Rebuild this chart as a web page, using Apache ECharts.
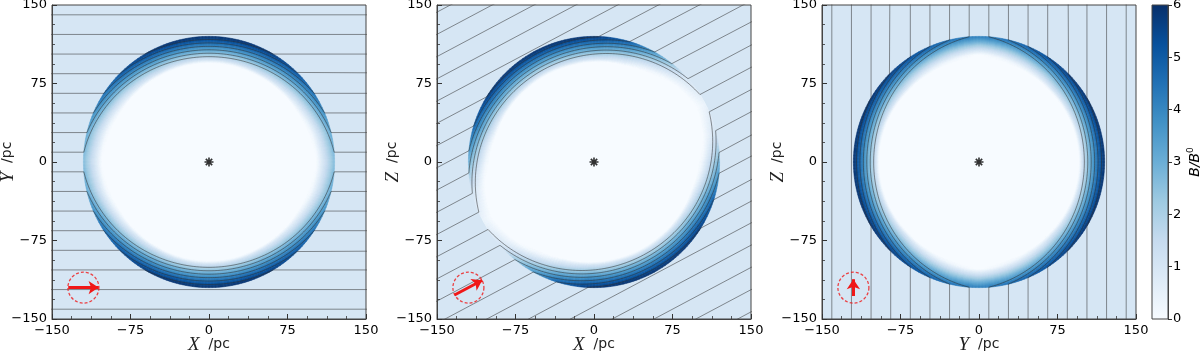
<!DOCTYPE html>
<html>
<head>
<meta charset="utf-8">
<script src="https://cdn.jsdelivr.net/npm/echarts@6/dist/echarts.min.js"></script>
<style>
  html, body { margin: 0; padding: 0; background: #fff; }
  #chart { width: 1200px; height: 356px; }
</style>
</head>
<body>
<div id="chart"></div>
<script>
  // ---- values ----
  const tickValues = [-150, -75, 0, 75, 150]
  const colorbarTicks = [0, 1, 2, 3, 4, 5, 6]
  const xNames = ['X', 'X', 'Y']
  const yNames = ['Y', 'Z', 'Z']
  const fieldAngles = [0, 28, 90] // ambient field direction in each slice (deg)
  const fieldLineOffsets = [
    -215.625, -196.875, -178.125, -159.375, -140.625, -121.875, -103.125, -84.375, -65.625, -46.875, -28.125, -9.375,
    9.375, 28.125, 46.875, 65.625, 84.375, 103.125, 121.875, 140.625, 159.375, 178.125, 196.875, 215.625
  ]
  const bubbleRadius = 120 // pc
  const lineShellDepth = 21 // pc, depth over which field lines are packed
  const ambientB = 1
  const cavityB = 0

  // shell profile against angle between shell normal and ambient field
  const profileAngles = [0, 15, 30, 45, 60, 75, 90]
  const peakXY = [2.6, 3.2, 4.4, 5.3, 5.8, 6.0, 6.0]
  const peakXZ = [0.4, 1.2, 3.2, 4.9, 5.8, 6.0, 6.0]
  const peakYZ = [4.2, 4.6, 5.3, 5.8, 6.0, 6.0, 6.0]
  const depthXY = [17, 18, 20, 21, 22, 22, 22]
  const depthXZ = [9, 13, 17, 20, 21, 22, 22]
  const depthYZ = [17, 19, 20, 21, 21, 21, 21]
  const floorXY = [0, 0.05, 0.12, 0.18, 0.2, 0.2, 0.2]
  const floorXZ = [0, 0, 0.08, 0.15, 0.2, 0.2, 0.2]
  const floorYZ = [0, 0.05, 0.12, 0.18, 0.2, 0.2, 0.2]

  const markerCentre = [-120, -120]
  const arrowLengths = [29, 30, 16]

  // ---- styles ----
  const blues = ['#f7fbff', '#deebf7', '#c6dbef', '#9ecae1', '#6baed6', '#4292c6', '#2171b5', '#08519c', '#08306b']
  const RAD = Math.PI / 180
  const panelLeft = [52, 437, 822]
  const panelTop = 5
  const panelSize = 314

  const profiles = [
    { peak: peakXY, depth: depthXY, floor: floorXY },
    { peak: peakXZ, depth: depthXZ, floor: floorXZ },
    { peak: peakYZ, depth: depthYZ, floor: floorYZ }
  ]

  const interp = (xs, ys, x) => {
    if (x <= xs[0]) return ys[0]
    for (let i = 1; i < xs.length; i++) {
      if (x <= xs[i]) {
        const f = (x - xs[i - 1]) / (xs[i] - xs[i - 1])
        return ys[i - 1] + f * (ys[i] - ys[i - 1])
      }
    }
    return ys[ys.length - 1]
  }

  // polar cells of the swept-up shell
  const shellCells = (prof, phiDeg) => {
    const cells = []
    const dth = 1.5
    const dr = 1
    const R = bubbleRadius
    for (let th = 0; th < 360; th += dth) {
      const mid = (th + dth / 2) * RAD
      const alpha = Math.acos(Math.min(1, Math.abs(Math.cos(mid - phiDeg * RAD)))) / RAD
      const bOut = interp(profileAngles, prof.peak, alpha)
      const t = interp(profileAngles, prof.depth, alpha)
      const f = interp(profileAngles, prof.floor, alpha)
      const rin = R - t
      for (let r = R - 30; r < R; r += dr) {
        const rm = r + dr / 2
        let b
        if (rm >= rin) b = bOut * (f + (1 - f) * (rm - rin) / t)
        else b = bOut * f * Math.max(0, 1 - (rin - rm) / 3)
        if (b > 0.03) cells.push([th, th + dth, r, r + dr, b])
      }
    }
    return cells
  }

  // a field line: straight outside, packed into the shell inside
  const fieldLine = (s, phiDeg) => {
    const R = bubbleRadius
    const phi = phiDeg * RAD
    const e = [Math.cos(phi), Math.sin(phi)]
    const n = [-Math.sin(phi), Math.cos(phi)]
    const toWorld = (t, u) => [t * e[0] + u * n[0], t * e[1] + u * n[1]]
    const far = 330
    if (Math.abs(s) >= R) return [toWorld(-far, s), toWorld(far, s)]
    const a0 = Math.asin(Math.abs(s) / R)
    const b0 = s > 0 ? Math.PI - a0 : -Math.PI + a0
    const b1 = s > 0 ? a0 : -a0
    const pts = [toWorld(-far, s)]
    const steps = 200
    for (let i = 0; i <= steps; i++) {
      const b = b0 + (b1 - b0) * i / steps
      const r = R - lineShellDepth * (Math.abs(Math.sin(b)) - Math.abs(s) / R)
      pts.push([r * Math.cos(b + phi), r * Math.sin(b + phi)])
    }
    pts.push(toWorld(far, s))
    return pts
  }

  const asteriskPath = () => {
    let d = ''
    ;[0, 45, 90, 135].forEach((a) => {
      const c = Math.cos(a * RAD)
      const sn = Math.sin(a * RAD)
      const pts = [[-5, -0.9], [5, -0.9], [5, 0.9], [-5, 0.9]].map(([x, y]) => [x * c - y * sn, x * sn + y * c])
      d += 'M' + pts.map((p) => p[0].toFixed(3) + ',' + p[1].toFixed(3)).join('L') + 'Z'
    })
    return 'path://' + d
  }

  const minus = (v) => String(v).replace('-', '\u2212')

  const grids = []
  const xAxes = []
  const yAxes = []
  const series = []
  const heatIndex = []

  for (let p = 0; p < 3; p++) {
    grids.push({
      left: panelLeft[p], top: panelTop, width: panelSize, height: panelSize,
      containLabel: false, outerBoundsMode: 'none',
      show: true, borderColor: '#444', borderWidth: 1, backgroundColor: 'transparent', z: 10
    })
    const axisCommon = {
      gridIndex: p, type: 'value', min: tickValues[0], max: tickValues[tickValues.length - 1],
      interval: tickValues[1] - tickValues[0], z: 11,
      axisLine: { show: true, onZero: false, lineStyle: { color: '#444', width: 1 } },
      axisTick: { show: true, inside: true, length: 5, lineStyle: { color: '#333', width: 1 } },
      minorTick: { show: true, splitNumber: 4, length: 3, lineStyle: { color: '#333', width: 0.8 } },
      splitLine: { show: false },
      axisLabel: { formatter: minus, fontSize: 13, color: '#000', fontFamily: 'DejaVu Sans', margin: 5 },
      nameLocation: 'middle',
      nameMoveOverlap: false,
      nameTextStyle: {
        color: '#000',
        rich: {
          i: { fontFamily: 'Liberation Serif', fontStyle: 'italic', fontSize: 19, color: '#222' },
          n: { fontFamily: 'DejaVu Sans', fontSize: 14, color: '#222' }
        }
      }
    }
    xAxes.push(Object.assign({}, axisCommon, { position: 'bottom', name: '{i|' + xNames[p] + '}{n|  /pc}', nameGap: 16 }))
    yAxes.push(Object.assign({}, axisCommon, { position: 'left', name: '{i|' + yNames[p] + '}{n|  /pc}', nameGap: 35 }))

    // ambient field background
    heatIndex.push(series.length)
    series.push({
      type: 'custom', xAxisIndex: p, yAxisIndex: p, z: 1, silent: true, animation: false,
      data: [[tickValues[0], tickValues[4], tickValues[0], tickValues[4], ambientB]],
      renderItem: (params, api) => {
        const a = api.coord([api.value(0), api.value(3)])
        const b = api.coord([api.value(1), api.value(2)])
        return { type: 'rect', shape: { x: a[0], y: a[1], width: b[0] - a[0], height: b[1] - a[1] }, style: { fill: api.visual('color') } }
      }
    })
    // empty cavity
    heatIndex.push(series.length)
    series.push({
      type: 'custom', xAxisIndex: p, yAxisIndex: p, z: 2, silent: true, animation: false,
      data: [[0, 0, 0, bubbleRadius, cavityB]],
      renderItem: (params, api) => {
        const r = api.value(3)
        const pts = []
        for (let k = 0; k < 240; k++) pts.push(api.coord([r * Math.cos(k * 1.5 * RAD), r * Math.sin(k * 1.5 * RAD)]))
        return { type: 'polygon', shape: { points: pts }, style: { fill: api.visual('color') } }
      }
    })
    // shell
    heatIndex.push(series.length)
    series.push({
      type: 'custom', xAxisIndex: p, yAxisIndex: p, z: 3, silent: true, animation: false, progressive: 0,
      data: shellCells(profiles[p], fieldAngles[p]),
      renderItem: (params, api) => {
        const a0 = api.value(0) * RAD
        const a1 = api.value(1) * RAD
        const r0 = api.value(2)
        const r1 = api.value(3)
        const pts = [
          [r0 * Math.cos(a0), r0 * Math.sin(a0)], [r1 * Math.cos(a0), r1 * Math.sin(a0)],
          [r1 * Math.cos(a1), r1 * Math.sin(a1)], [r0 * Math.cos(a1), r0 * Math.sin(a1)]
        ].map((q) => api.coord(q))
        const c = api.visual('color')
        return { type: 'polygon', shape: { points: pts }, style: { fill: c, stroke: c, lineWidth: 0.6 } }
      }
    })
    // field lines
    fieldLineOffsets.forEach((s) => {
      series.push({
        type: 'line', xAxisIndex: p, yAxisIndex: p, z: 4, silent: true, animation: false,
        showSymbol: false, symbol: 'none', clip: true,
        lineStyle: { color: 'rgba(45,45,45,0.58)', width: 0.9 },
        data: fieldLine(s, fieldAngles[p])
      })
    })
    // central star
    series.push({
      type: 'scatter', xAxisIndex: p, yAxisIndex: p, z: 6, silent: true, animation: false,
      symbol: asteriskPath(), symbolSize: 9, itemStyle: { color: '#000' },
      data: [[0, 0]]
    })
    // field direction marker
    const half = arrowLengths[p] / 2
    const ang = fieldAngles[p] * RAD
    series.push({
      type: 'scatter', xAxisIndex: p, yAxisIndex: p, z: 6, silent: true, animation: false,
      symbol: 'circle', symbolSize: 31,
      itemStyle: { color: 'transparent', borderColor: '#f01818', borderWidth: 1.3, borderType: [3, 2] },
      data: [markerCentre],
      markLine: {
        silent: true, animation: false, symbol: ['none', 'arrow'], symbolSize: 10,
        label: { show: false },
        lineStyle: { color: '#f01818', width: 3, type: 'solid' },
        data: [[
          { coord: [markerCentre[0] - half * Math.cos(ang), markerCentre[1] - half * Math.sin(ang)] },
          { coord: [markerCentre[0] + half * Math.cos(ang), markerCentre[1] + half * Math.sin(ang)] }
        ]]
      }
    })
  }

  // colour bar
  grids.push({
    left: 1152, top: panelTop, width: 16, height: panelSize, containLabel: false, outerBoundsMode: 'none',
    show: true, borderColor: '#444', borderWidth: 1, backgroundColor: 'transparent', z: 10
  })
  xAxes.push({ gridIndex: 3, type: 'value', min: 0, max: 1, show: false })
  yAxes.push({
    gridIndex: 3, type: 'value', position: 'right', min: colorbarTicks[0], max: colorbarTicks[colorbarTicks.length - 1],
    interval: 1, z: 11,
    axisLine: { show: true, onZero: false, lineStyle: { color: '#444', width: 1 } },
    axisTick: { show: true, inside: false, length: 4, lineStyle: { color: '#333' } },
    splitLine: { show: false },
    axisLabel: { fontSize: 13, color: '#000', fontFamily: 'DejaVu Sans', margin: 5 },
    name: '{i|B/B}{s|0}', nameLocation: 'middle', nameGap: 18, nameRotate: 90, nameMoveOverlap: false,
    nameTextStyle: {
      rich: {
        i: { fontFamily: 'DejaVu Sans', fontStyle: 'italic', fontSize: 14, color: '#000', lineHeight: 18 },
        s: { fontFamily: 'DejaVu Sans', fontSize: 9, color: '#000', verticalAlign: 'top', lineHeight: 18 }
      }
    }
  })
  series.push({
    type: 'custom', xAxisIndex: 3, yAxisIndex: 3, z: 2, silent: true, animation: false,
    data: [[0, 1, colorbarTicks[0], colorbarTicks[colorbarTicks.length - 1]]],
    renderItem: (params, api) => {
      const a = api.coord([api.value(0), api.value(3)])
      const b = api.coord([api.value(1), api.value(2)])
      return {
        type: 'rect',
        shape: { x: a[0], y: a[1], width: b[0] - a[0], height: b[1] - a[1] },
        style: { fill: new echarts.graphic.LinearGradient(0, 1, 0, 0, blues.map((c, i) => ({ offset: i / (blues.length - 1), color: c }))) }
      }
    }
  })

  const chart = echarts.init(document.getElementById('chart'), null, { renderer: 'canvas' })
  chart.setOption({
    animation: false,
    backgroundColor: '#fff',
    grid: grids,
    xAxis: xAxes,
    yAxis: yAxes,
    visualMap: {
      type: 'continuous', show: false, min: 0, max: 6, dimension: 4,
      seriesIndex: heatIndex, inRange: { color: blues }
    },
    series: series
  })
</script>
</body>
</html>
